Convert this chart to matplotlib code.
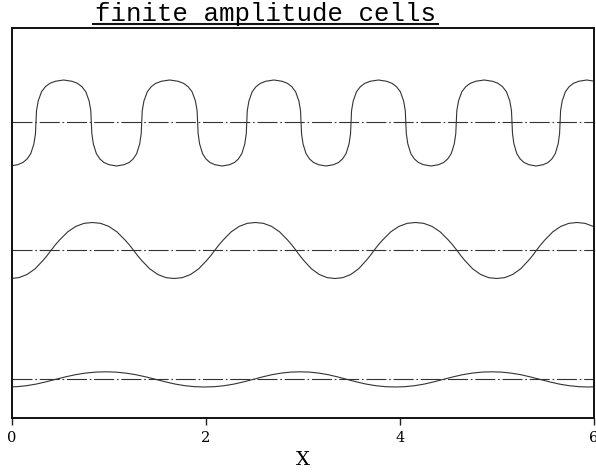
import matplotlib
matplotlib.use('Agg')
import matplotlib.pyplot as plt
from matplotlib.lines import Line2D

# y unit = 10 px of the original plot, 0 at the bottom frame
# each curve: mean level, peak heights, zero crossings and one half-wave profile
top_level = 29.6
top_amp_up, top_amp_down = 4.2, 4.4
top_cross = [-0.29, 0.247, 0.818, 1.337, 1.914, 2.42, 2.98, 3.495, 4.06, 4.58, 5.155, 5.65, 6.2]
top_frac = [0, 0.01, 0.04, 0.1, 0.17, 0.25, 0.35, 0.5, 0.65, 0.75, 0.83, 0.9, 0.96, 0.99]
top_shape = [0, 0.27, 0.5, 0.72, 0.84, 0.92, 0.97, 1.0, 0.97, 0.92, 0.84, 0.72, 0.5, 0.27]

mid_level = 16.8
mid_amp_up, mid_amp_down = 2.75, 2.85
mid_cross = [-0.43, 0.405, 1.251, 2.093, 2.925, 3.735, 4.584, 5.409, 6.24]
mid_frac = [0, 0.05, 0.1, 0.2, 0.3, 0.4, 0.5, 0.6, 0.7, 0.8, 0.9, 0.95]
mid_shape = [0, 0.19, 0.36, 0.66, 0.86, 0.97, 1.0, 0.97, 0.86, 0.66, 0.36, 0.19]

bot_level = 3.87
bot_amp_up, bot_amp_down = 0.75, 0.77
bot_cross = [-0.55, 0.45, 1.48, 2.49, 3.45, 4.45, 5.44, 6.45]
bot_frac = [0, 0.1, 0.2, 0.3, 0.4, 0.5, 0.6, 0.7, 0.8, 0.9]
bot_shape = [0, 0.33, 0.62, 0.83, 0.96, 1.0, 0.96, 0.83, 0.62, 0.33]

xticks = [0, 2, 4, 6]


def assemble(cross, frac, shape, level, amp_up, amp_down, first=-1):
    """Lay the half-wave profile between successive zero crossings, alternating sign."""
    xs, ys = [], []
    sign = first
    for a, b in zip(cross[:-1], cross[1:]):
        amp = amp_up if sign > 0 else amp_down
        for f, h in zip(frac, shape):
            xs.append(a + f * (b - a))
            ys.append(level + sign * amp * h)
        sign = -sign
    xs.append(cross[-1])
    ys.append(level)
    return xs, ys


fig = plt.figure(figsize=(5.96, 4.72), dpi=100)
ax = fig.add_axes([12 / 596, 54 / 472, 582 / 596, 390 / 472])

dash = (0, (18, 2.5, 1.5, 2.5))
for cross, frac, shape, level, up, down in [
        (top_cross, top_frac, top_shape, top_level, top_amp_up, top_amp_down),
        (mid_cross, mid_frac, mid_shape, mid_level, mid_amp_up, mid_amp_down),
        (bot_cross, bot_frac, bot_shape, bot_level, bot_amp_up, bot_amp_down)]:
    xs, ys = assemble(cross, frac, shape, level, up, down)
    ax.plot(xs, ys, color='#333333', lw=0.8)
    ax.axhline(level, color='#333333', lw=0.8, linestyle=dash)

ax.set_xlim(0, 6)
ax.set_ylim(0, 39)
ax.set_xticks(xticks)
ax.set_xticklabels([str(t) for t in xticks], family='DejaVu Serif', fontsize=10.5)
ax.set_yticks([])
ax.tick_params(axis='x', direction='out', length=5, width=1, pad=4, color='#222222')
for s in ax.spines.values():
    s.set_linewidth(1.4)
    s.set_color('#111111')
ax.set_xlabel('X', family='DejaVu Serif', fontsize=14, labelpad=5)

fig.text(265.5 / 596, 1 - 20.7 / 472, 'finite amplitude cells', ha='center',
         va='baseline', family='Liberation Mono', fontsize=18.5)
base = 1 - 24.2 / 472
fig.add_artist(Line2D([93 / 596, 438 / 596], [base, base],
                      transform=fig.transFigure, color='#111111', lw=1.5))

fig.savefig('out.png', dpi=100)
